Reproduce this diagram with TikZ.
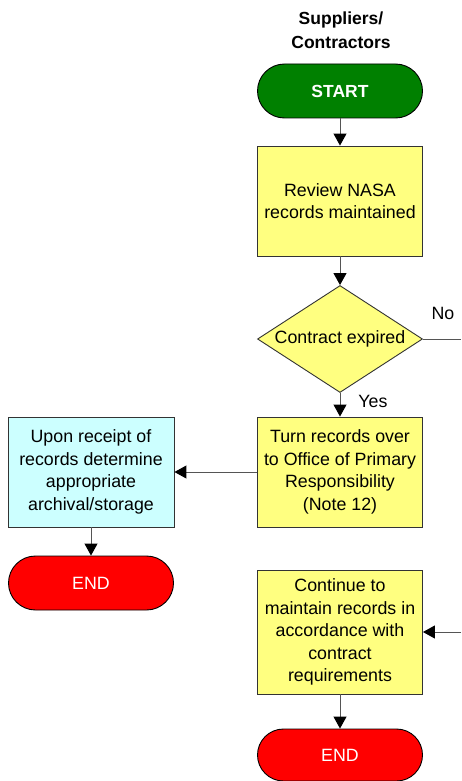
\documentclass[tikz,border=0pt]{standalone}
\usepackage{fontspec}
\setmainfont{Liberation Sans}
\usetikzlibrary{shapes.geometric,arrows.meta}
\definecolor{startgreen}{HTML}{008000}
\definecolor{boxyellow}{HTML}{FFFF80}
\definecolor{boxcyan}{HTML}{CCFFFF}
\definecolor{endred}{HTML}{FF0000}
\definecolor{linegray}{HTML}{555555}
\begin{document}
\begin{tikzpicture}[x=1pt,y=-1pt,
  every node/.style={font=\fontsize{17.8}{22.5}\selectfont, align=center},
  procbox/.style={draw=black!80, line width=0.9pt, fill=boxyellow, minimum width=165pt, inner sep=2pt},
  termbox/.style={draw=black, line width=0.9pt, minimum width=165pt, minimum height=54pt, rounded corners=27pt, text=white},
  conn/.style={draw=linegray, line width=1pt, -{Triangle[length=12pt,width=13pt,black]}},
  plainconn/.style={draw=linegray, line width=1pt}
]
\useasboundingbox (0,0) rectangle (461,781);
\fill[white] (0,0) rectangle (461,781);

\node[font=\fontsize{17.5}{24}\selectfont\bfseries] (head) at (341,30) {Suppliers/\\Contractors};

\node[termbox, fill=startgreen, font=\fontsize{17.5}{22.3}\selectfont\bfseries] (start) at (340,91) {START};
\node[procbox, minimum height=110pt] (review) at (340,201) {Review NASA\\records maintained};
\node[shape=diamond, draw=black!80, line width=0.9pt, fill=boxyellow, minimum width=165pt, minimum height=107pt, inner sep=0pt, label={[font=\fontsize{17.8}{22.5}\selectfont]center:Contract expired}] (dec) at (340,339) {};
\node[procbox, minimum height=110pt] (turn) at (340,472) {Turn records over\\to Office of Primary\\Responsibility\\(Note 12)};
\node[procbox, fill=boxcyan, minimum height=110pt, minimum width=166pt] (upon) at (91,472) {Upon receipt of\\records determine\\appropriate\\archival/storage};
\node[termbox, fill=endred] (end1) at (91,583) {END};
\node[procbox, minimum height=124pt] (cont) at (340,632) {Continue to\\maintain records in\\accordance with\\contract\\requirements};
\node[termbox, fill=endred, minimum height=52pt, rounded corners=26pt] (end2) at (340,755) {END};

\coordinate (noend) at (461,339);
\coordinate (nostart) at (461,632);

\draw[conn] (start) -- (review);
\draw[conn] (review) -- (dec);
\draw[conn] (dec) -- (turn);
\draw[conn] (turn) -- (upon);
\draw[conn] (upon) -- (end1);
\draw[conn] (cont) -- (end2);
\draw[plainconn] (dec.east) -- (noend);
\draw[conn] (nostart) -- (cont.east);

\node (nolbl) at (443,313) {No};
\node (yeslbl) at (373,401) {Yes};
\end{tikzpicture}
\end{document}
